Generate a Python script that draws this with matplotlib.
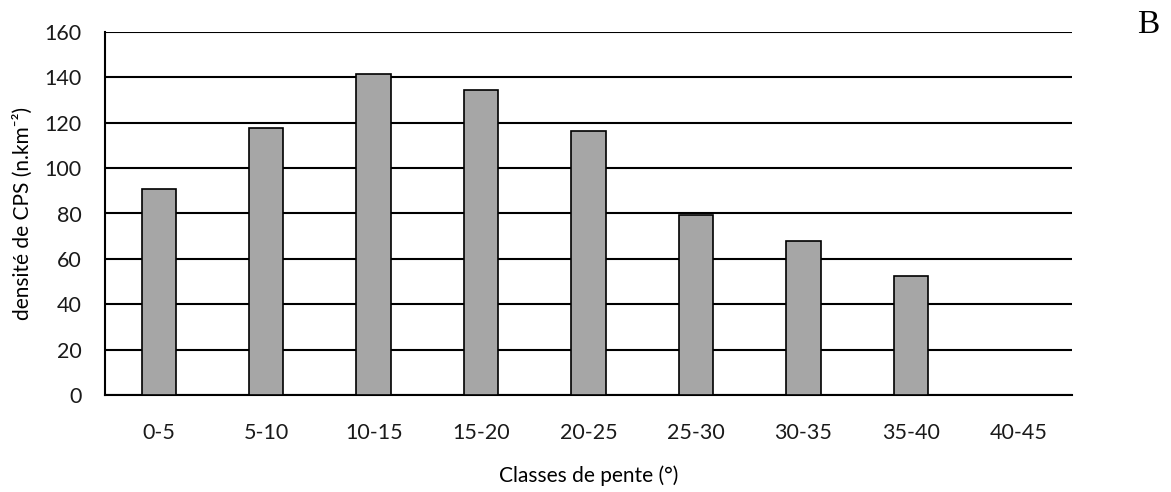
import matplotlib.pyplot as plt
import numpy as np

classes = ['0-5', '5-10', '10-15', '15-20', '20-25', '25-30', '30-35', '35-40', '40-45']
densite = [91, 117.5, 141.5, 134.5, 116.5, 79.5, 68, 52.3, 0]

plt.rcParams['font.family'] = ['Lato', 'DejaVu Sans']

fig = plt.figure(figsize=(11.71, 4.92), dpi=100)
ax = fig.add_axes([105 / 1171, 1 - 395 / 492, (1072 - 105) / 1171, (395 - 32) / 492])

x = np.arange(len(classes))
ax.bar(x, densite, width=0.32, color='#a6a6a6', edgecolor='black', linewidth=1.2, zorder=3)

ax.set_xlim(-0.5, len(classes) - 0.5)
ax.set_ylim(0, 160)
ax.set_yticks(np.arange(0, 161, 20))
ax.set_xticks(x)
ax.set_xticklabels(classes)
ax.tick_params(axis='both', length=0, labelsize=15.5, colors='#1a1a1a')
ax.tick_params(axis='x', pad=20)
ax.tick_params(axis='y', pad=17)

ax.grid(axis='y', color='black', linewidth=1.5, zorder=0)
ax.set_axisbelow(True)
for s in ['top', 'right']:
    ax.spines[s].set_visible(False)
ax.spines['left'].set_linewidth(1.5)
ax.spines['bottom'].set_linewidth(1.5)

ax.set_ylabel('densité de CPS (n.km⁻²)', fontsize=15, labelpad=8)
ax.set_xlabel('Classes de pente (°)', fontsize=15, labelpad=16)

fig.text(1148 / 1171, 1 - 25 / 492, 'B', fontsize=24, family='Liberation Serif', ha='center', va='center')

fig.savefig('out.png', dpi=100)
